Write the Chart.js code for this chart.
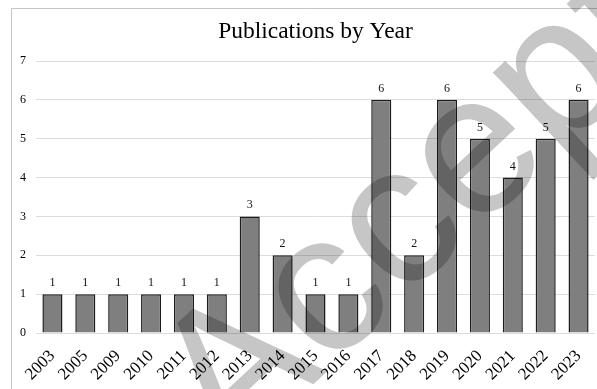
<!DOCTYPE html>
<html>
<head>
<meta charset="utf-8">
<script src="https://cdn.jsdelivr.net/npm/chart.js@4.4.1/dist/chart.umd.min.js"></script>
<style>
  html, body { margin: 0; padding: 0; background: #ffffff; }
  #wrap { width: 597px; height: 389px; position: relative; }
</style>
</head>
<body>
<div id="wrap"><canvas id="chart" width="597" height="389"></canvas></div>
<script>
// Publications counted per year
const years = ['2003', '2005', '2009', '2010', '2011', '2012', '2013', '2014', '2015',
               '2016', '2017', '2018', '2019', '2020', '2021', '2022', '2023'];
const publications = [1, 1, 1, 1, 1, 1, 3, 2, 1, 1, 6, 2, 6, 5, 4, 5, 6];
const yTicks = [0, 1, 2, 3, 4, 5, 6, 7];
const chartTitle = 'Publications by Year';
const stampText = 'Accepted';

const SERIF = '"Liberation Serif", "Times New Roman", serif';

// Thin frame along the top and left edges
const framePlugin = {
  id: 'frame',
  beforeDraw(chart) {
    const ctx = chart.ctx;
    ctx.save();
    ctx.strokeStyle = '#c4c4c4';
    ctx.lineWidth = 1;
    ctx.beginPath();
    ctx.moveTo(11.5, chart.height);
    ctx.lineTo(11.5, 8.5);
    ctx.lineTo(chart.width, 8.5);
    ctx.stroke();
    ctx.restore();
  }
};

// Value printed above each bar
const valueLabels = {
  id: 'valueLabels',
  afterDatasetsDraw(chart) {
    const ctx = chart.ctx;
    const meta = chart.getDatasetMeta(0);
    ctx.save();
    ctx.font = '12px ' + SERIF;
    ctx.fillStyle = '#111';
    ctx.textAlign = 'center';
    ctx.textBaseline = 'alphabetic';
    meta.data.forEach((bar, i) => {
      ctx.fillText(String(publications[i]), bar.x, bar.y - 8);
    });
    ctx.restore();
  }
};

// Large diagonal "Accepted" stamp laid over the chart
const stampPlugin = {
  id: 'stamp',
  afterDraw(chart) {
    const ctx = chart.ctx;
    ctx.save();
    ctx.globalCompositeOperation = 'multiply';
    ctx.translate(230, 462);
    ctx.rotate(-43 * Math.PI / 180);
    ctx.font = '200px "Liberation Sans", Arial, sans-serif';
    ctx.fillStyle = '#c6c6c6';
    ctx.textAlign = 'left';
    ctx.textBaseline = 'alphabetic';
    ctx.fillText(stampText, 0, 0);
    ctx.restore();
  }
};

new Chart(document.getElementById('chart'), {
  type: 'bar',
  data: {
    labels: years,
    datasets: [{
      data: publications,
      backgroundColor: '#7f7f7f',
      borderColor: '#1c1c1c',
      borderWidth: 1.5,
      barPercentage: 0.61,
      categoryPercentage: 1.0
    }]
  },
  options: {
    responsive: false,
    animation: false,
    layout: { padding: { left: 0, right: 2, top: 0, bottom: 0 } },
    plugins: {
      legend: { display: false },
      tooltip: { enabled: false },
      title: {
        display: true,
        text: chartTitle,
        color: '#000',
        fullSize: false,
        font: { family: SERIF, size: 23.5, weight: 'normal', lineHeight: 1.2 },
        padding: { top: 18, bottom: 14.8 }
      }
    },
    scales: {
      x: {
        offset: true,
        grid: { display: false, drawTicks: false },
        border: { display: false },
        ticks: {
          color: '#000',
          font: { family: SERIF, size: 17 },
          minRotation: 45,
          maxRotation: 45,
          padding: 13,
          autoSkip: false
        },
        afterFit(s) {
          s.height = 56;
          s.paddingLeft = 0;
          s.paddingRight = 0;
        }
      },
      y: {
        min: 0,
        max: 7,
        afterBuildTicks(s) { s.ticks = yTicks.map(v => ({ value: v })); },
        grid: { color: '#dcdcdc', lineWidth: 1, drawTicks: false },
        border: { display: false },
        ticks: {
          color: '#000',
          font: { family: SERIF, size: 12 },
          padding: 10,
          align: 'center'
        },
        afterFit(s) { s.width = 36; }
      }
    }
  },
  plugins: [framePlugin, valueLabels, stampPlugin]
});
</script>
</body>
</html>
